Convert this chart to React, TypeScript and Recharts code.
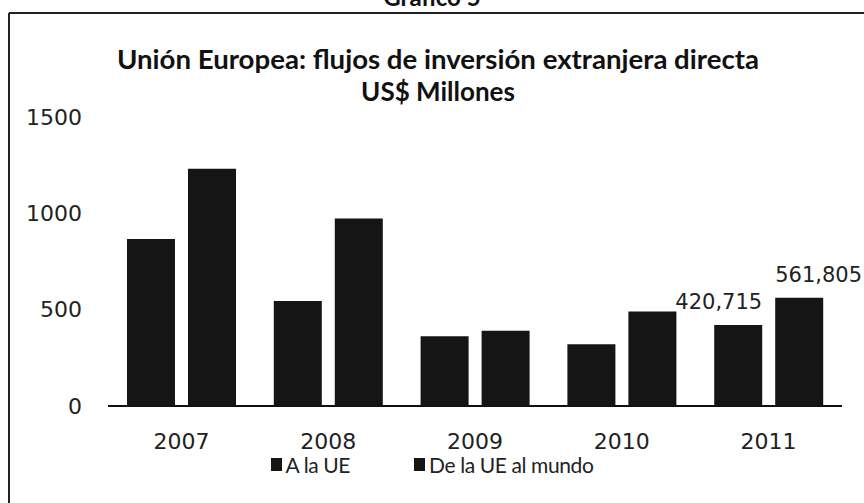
import React from "react";
import { BarChart, Bar, XAxis, YAxis, Legend, LabelList } from "recharts";

// values in the axis units (the labels show them with a decimal comma)
const years = ["2007", "2008", "2009", "2010", "2011"];
const aLaUE = [867, 545, 362, 321, 420.715];
const deLaUEAlMundo = [1231, 973, 390, 491, 561.805];
const yTicks = [0, 500, 1000, 1500];
const seriesNames = ["A la UE", "De la UE al mundo"];

const data = years.map((year, i) => ({
    year,
    a: aLaUE[i],
    b: deLaUEAlMundo[i],
}));

const BAR_COLOR = "#151515";
const NUM_FONT = "'DejaVu Sans', Verdana, sans-serif";
const TEXT_FONT = "Lato, 'Open Sans', sans-serif";

const lastIndex = years.length - 1;

function fmt(v: number) {
    return v.toFixed(3).replace(".", ",");
}

// Excel put the two labels on the last year only
function makeLabel(anchor: "start" | "end") {
    return (props: any) => {
        const { x, y, width, value, index } = props;
        if (index !== lastIndex) return null;
        const tx = anchor === "end" ? Number(x) + Number(width) : Number(x);
        return (
            <text
                x={tx}
                y={Number(y) - 16}
                textAnchor={anchor}
                fontFamily={NUM_FONT}
                fontSize={21}
                fill="#222"
            >
                {fmt(Number(value))}
            </text>
        );
    };
}

function LegendContent() {
    return (
        <div
            style={{
                display: "flex",
                justifyContent: "center",
                gap: 64,
                fontFamily: TEXT_FONT,
                fontSize: 21,
                color: "#222",
                letterSpacing: -0.4,
            }}
        >
            {seriesNames.map((name) => (
                <div key={name} style={{ display: "flex", alignItems: "center", gap: 4 }}>
                    <span style={{ width: 11, height: 13, background: BAR_COLOR, display: "inline-block" }} />
                    <span>{name}</span>
                </div>
            ))}
        </div>
    );
}

export default function App() {
    return (
        <div style={{ position: "absolute", left: 0, top: 0, width: 864, height: 503, background: "#fff", overflow: "hidden" }}>
            <BarChart
                width={864}
                height={503}
                data={data}
                margin={{ top: 117, right: 22, bottom: 67, left: 0 }}
                barGap={13}
                barSize={48}
            >
                <XAxis
                    dataKey="year"
                    height={30}
                    tickLine={false}
                    tickSize={0}
                    tickMargin={27}
                    axisLine={{ stroke: "#111", strokeWidth: 2 }}
                    tick={{ fill: "#222", fontSize: 22, fontFamily: NUM_FONT }}
                />
                <YAxis
                    width={108}
                    domain={[0, 1500]}
                    ticks={yTicks}
                    interval={0}
                    axisLine={false}
                    tickLine={false}
                    tickSize={0}
                    tickMargin={26}
                    tick={{ fill: "#222", fontSize: 22, fontFamily: NUM_FONT }}
                />
                {/* middle/center keeps the legend from shrinking the plot */}
                <Legend
                    layout="horizontal"
                    verticalAlign="middle"
                    align="center"
                    content={<LegendContent />}
                    wrapperStyle={{ top: 452, left: 0, width: 864 }}
                />
                <Bar dataKey="a" name={seriesNames[0]} fill={BAR_COLOR} isAnimationActive={false}>
                    <LabelList dataKey="a" content={makeLabel("end")} />
                </Bar>
                <Bar dataKey="b" name={seriesNames[1]} fill={BAR_COLOR} isAnimationActive={false}>
                    <LabelList dataKey="b" content={makeLabel("start")} />
                </Bar>
            </BarChart>
            {/* frame and titles */}
            <svg width={864} height={503} style={{ position: "absolute", left: 0, top: 0, pointerEvents: "none" }}>
                <line x1={9} y1={13} x2={864} y2={13} stroke="#222" strokeWidth={2} />
                <line x1={9} y1={13} x2={9} y2={503} stroke="#222" strokeWidth={2} />
                <text x={432} y={6} textAnchor="middle" fontFamily={TEXT_FONT} fontWeight={700} fontSize={24} fill="#111">
                    Gráfico 5
                </text>
                <text
                    x={438}
                    y={69}
                    textAnchor="middle"
                    fontFamily={TEXT_FONT}
                    fontWeight={700}
                    fontSize={26}
                    fill="#111"
                    textLength={642}
                    lengthAdjust="spacingAndGlyphs"
                >
                    Unión Europea: flujos de inversión extranjera directa
                </text>
                <text x={438} y={101} textAnchor="middle" fontFamily={TEXT_FONT} fontWeight={700} fontSize={26} fill="#111">
                    US$ Millones
                </text>
            </svg>
        </div>
    );
}
